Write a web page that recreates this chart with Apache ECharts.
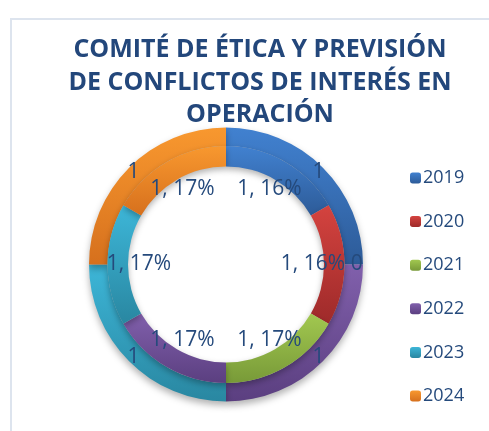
<!DOCTYPE html>
<html>
<head>
<meta charset="utf-8">
<script src="https://cdn.jsdelivr.net/npm/echarts@6/dist/echarts.min.js"></script>
<style>html,body{margin:0;padding:0;background:#fff;}#c{width:489px;height:431px;}</style>
</head>
<body>
<div id="c"></div>
<script>
var categories = ['2019', '2020', '2021', '2022', '2023', '2024'];
var outerValues = [1, 0, 0, 1, 1, 1];
var innerValues = [1, 1, 1, 1, 1, 1];
var innerPercent = [16, 16, 17, 17, 17, 17];
var titleLines = ['COMITÉ DE ÉTICA Y PREVISIÓN', 'DE CONFLICTOS DE INTERÉS EN', 'OPERACIÓN'];

var palette = [
  ['#4181d0', '#2d5b98'],
  ['#d4433f', '#9e2a2a'],
  ['#a2c850', '#789a38'],
  ['#8160ac', '#5b3f80'],
  ['#3db6d8', '#2987a1'],
  ['#f8982f', '#d6701d']
];
function grad(i) {
  return {type: 'linear', x: 0, y: 0, x2: 0, y2: 1,
    colorStops: [{offset: 0, color: palette[i][0]}, {offset: 1, color: palette[i][1]}]};
}
var textColor = '#254a7c';
var center = [226, 264.5];

var chart = echarts.init(document.getElementById('c'));
chart.setOption({
  animation: false,
  title: {
    text: titleLines.join('\n'),
    left: 255, top: 29, textAlign: 'center',
    textStyle: {fontFamily: 'Open Sans', fontWeight: 'bold', fontSize: 25, lineHeight: 32.5, color: '#23477b'}
  },
  graphic: [{
    type: 'rect', silent: true,
    shape: {x: 11, y: 19, width: 700, height: 700},
    style: {fill: 'none', stroke: '#dde4ee', lineWidth: 2}
  }],
  legend: {
    orient: 'vertical', left: 405, top: 163,
    itemWidth: 11, itemHeight: 11, itemGap: 23.6,
    data: categories,
    textStyle: {fontFamily: 'Open Sans', fontSize: 18, lineHeight: 20, color: textColor, padding: [0, 0, 0, -3]}
  },
  series: [
    {
      type: 'pie', center: center, radius: [118.5, 137], startAngle: 90, clockwise: true,
      avoidLabelOverlap: false, stillShowZeroSum: true,
      itemStyle: {shadowColor: 'rgba(0,0,0,0.3)', shadowBlur: 7, shadowOffsetY: 4},
      label: {show: true, position: 'inside', formatter: '{c}', fontFamily: 'Open Sans', fontSize: 21, color: textColor},
      labelLine: {show: false},
      emphasis: {disabled: true},
      data: categories.map(function (c, i) { return {name: c, value: outerValues[i], itemStyle: {color: grad(i)}}; })
    },
    {
      type: 'pie', center: center, radius: [98, 118.5], startAngle: 90, clockwise: true,
      itemStyle: {shadowColor: 'rgba(0,0,0,0.3)', shadowBlur: 6, shadowOffsetY: 3},
      label: {show: false}, labelLine: {show: false},
      emphasis: {disabled: true},
      data: categories.map(function (c, i) { return {name: c, value: innerValues[i], itemStyle: {color: grad(i)}}; })
    },
    {
      type: 'pie', center: center, radius: [68, 100], startAngle: 90, clockwise: true, silent: true,
      itemStyle: {color: 'rgba(0,0,0,0)'},
      label: {show: true, position: 'inside', fontFamily: 'Open Sans', fontSize: 21, color: textColor,
        formatter: function (p) { return innerValues[p.dataIndex] + ', ' + innerPercent[p.dataIndex] + '%'; }},
      labelLine: {show: false},
      emphasis: {disabled: true},
      data: categories.map(function (c, i) { return {name: c, value: innerValues[i]}; })
    }
  ]
});
</script>
</body>
</html>
